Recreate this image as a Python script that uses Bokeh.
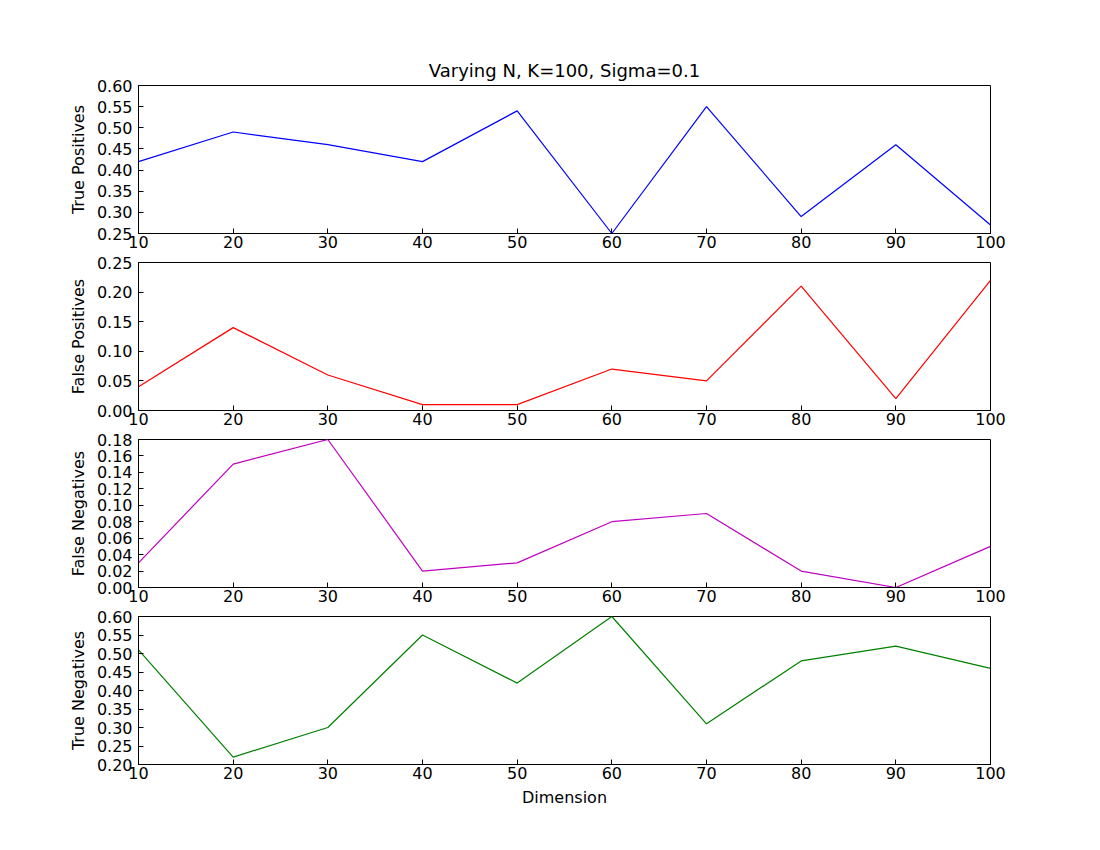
from bokeh.embed import file_html
from bokeh.resources import INLINE
from bokeh.layouts import column
from bokeh.models import FixedTicker, Range1d, CustomJSTickFormatter
from bokeh.plotting import figure

dims = [10, 20, 30, 40, 50, 60, 70, 80, 90, 100]
true_pos = [0.42, 0.49, 0.46, 0.42, 0.54, 0.25, 0.55, 0.29, 0.46, 0.27]
false_pos = [0.04, 0.14, 0.06, 0.01, 0.01, 0.07, 0.05, 0.21, 0.02, 0.22]
false_neg = [0.03, 0.15, 0.18, 0.02, 0.03, 0.08, 0.09, 0.02, 0.00, 0.05]
true_neg = [0.51, 0.22, 0.30, 0.55, 0.42, 0.60, 0.31, 0.48, 0.52, 0.46]

panels = [
    ("True Positives", true_pos, "blue", (0.25, 0.60), 0.05),
    ("False Positives", false_pos, "red", (0.0, 0.25), 0.05),
    ("False Negatives", false_neg, "#bf00bf", (0.0, 0.18), 0.02),
    ("True Negatives", true_neg, "green", (0.20, 0.60), 0.05),
]

FONT = "DejaVu Sans"
figs = []
for i, (label, vals, color, (lo, hi), step) in enumerate(panels):
    first, last = i == 0, i == len(panels) - 1
    p = figure(frame_width=852, frame_height=148,
               min_border_left=138, min_border_right=94,
               min_border_top=85 if first else 8,
               min_border_bottom=50 if last else 21,
               output_backend="svg", toolbar_location=None,
               x_range=Range1d(10, 100), y_range=Range1d(lo, hi))
    if first:
        p.title.text = "Varying N, K=100, Sigma=0.1"
        p.title.align = "center"
        p.title.text_font = FONT
        p.title.text_font_size = "18px"
        p.title.text_font_style = "normal"
        p.title.text_color = "black"
    p.line(dims, vals, line_color=color, line_width=1.2)
    n = int(round((hi - lo) / step))
    p.yaxis.ticker = FixedTicker(ticks=[round(lo + k * step, 4) for k in range(n + 1)])
    p.yaxis.formatter = CustomJSTickFormatter(code="return tick.toFixed(2);")
    p.xaxis.ticker = FixedTicker(ticks=dims)
    p.yaxis.axis_label = label
    if last:
        p.xaxis.axis_label = "Dimension"
    for ax in (p.xaxis, p.yaxis):
        ax.major_label_text_font = FONT
        ax.major_label_text_font_size = "16px"
        ax.major_label_text_color = "black"
        ax.axis_label_text_font = FONT
        ax.axis_label_text_font_size = "16px"
        ax.axis_label_text_font_style = "normal"
        ax.axis_label_text_color = "black"
        ax.major_tick_in = 5
        ax.major_tick_out = 0
        ax.minor_tick_out = 0
        ax.minor_tick_in = 0
        ax.major_label_standoff = 6
        ax.axis_label_standoff = 6
        ax.axis_line_color = "black"
    p.xaxis.major_label_standoff = 2
    p.xgrid.visible = False
    p.ygrid.visible = False
    p.outline_line_color = "black"
    p.outline_line_alpha = 1
    figs.append(p)

layout = column(*figs, spacing=0)
open("out.html", "w").write(file_html(layout, INLINE))
